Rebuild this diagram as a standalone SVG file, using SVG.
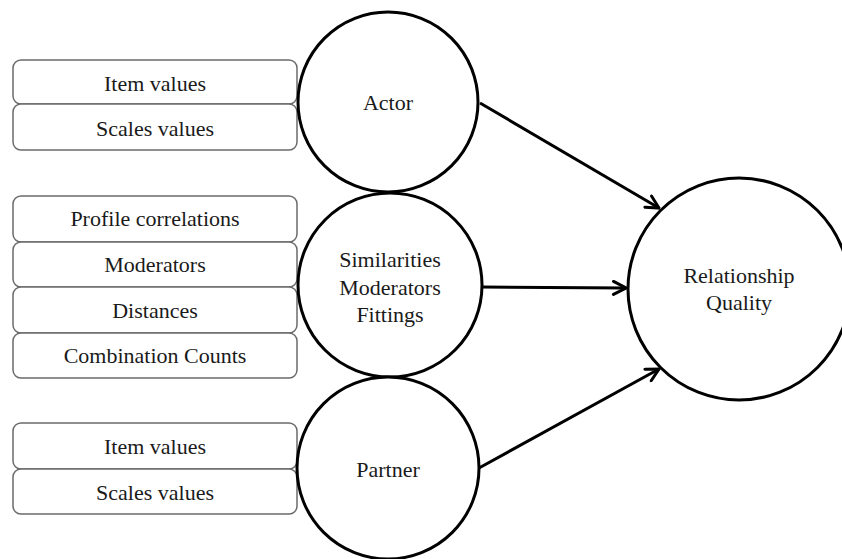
<svg xmlns="http://www.w3.org/2000/svg" width="842" height="559" viewBox="0 0 842 559">
  <style>
    .box { fill: #ffffff; stroke: #6b6b6b; stroke-width: 1.5; }
    .node { fill: #ffffff; stroke: #000000; stroke-width: 3; }
    .label { font-family: "Liberation Serif", "Times New Roman", serif; font-size: 22px; fill: #1a1a1a; text-anchor: middle; }
    .edge { fill: none; stroke: #000000; stroke-width: 3; }
  </style>
  <defs>
    <marker id="arrow" viewBox="0 0 16 16" refX="14.5" refY="8" markerWidth="16" markerHeight="16" markerUnits="userSpaceOnUse" orient="auto">
      <path d="M2,1.5 L14.5,8 L2,14.5" fill="none" stroke="#000000" stroke-width="3" stroke-linecap="round" stroke-linejoin="miter"/>
    </marker>
  </defs>
  <rect width="842" height="559" fill="#ffffff"/>

  <!-- Actor indicators -->
  <g id="actor-items">
    <rect class="box" x="13" y="60" width="284" height="44" rx="8"/>
    <text class="label" x="155" y="91">Item values</text>
  </g>
  <g id="actor-scales">
    <rect class="box" x="13" y="104" width="284" height="46" rx="8"/>
    <text class="label" x="155" y="136">Scales values</text>
  </g>

  <!-- Dyadic indicators -->
  <g id="profile-correlations">
    <rect class="box" x="13" y="196" width="284" height="46" rx="8"/>
    <text class="label" x="155" y="226">Profile correlations</text>
  </g>
  <g id="moderators">
    <rect class="box" x="13" y="242" width="284" height="45" rx="8"/>
    <text class="label" x="155" y="272">Moderators</text>
  </g>
  <g id="distances">
    <rect class="box" x="13" y="287" width="284" height="46" rx="8"/>
    <text class="label" x="155" y="318">Distances</text>
  </g>
  <g id="combination-counts">
    <rect class="box" x="13" y="333" width="284" height="45" rx="8"/>
    <text class="label" x="155" y="363">Combination Counts</text>
  </g>

  <!-- Partner indicators -->
  <g id="partner-items">
    <rect class="box" x="13" y="423" width="284" height="46" rx="8"/>
    <text class="label" x="155" y="454">Item values</text>
  </g>
  <g id="partner-scales">
    <rect class="box" x="13" y="469" width="284" height="45" rx="8"/>
    <text class="label" x="155" y="500">Scales values</text>
  </g>

  <!-- Latent constructs -->
  <g id="actor">
    <circle class="node" cx="388" cy="102" r="90"/>
    <text class="label" x="388" y="110">Actor</text>
  </g>
  <g id="similarities">
    <circle class="node" cx="390" cy="285" r="92"/>
    <text class="label" x="390" y="267">Similarities</text>
    <text class="label" x="390" y="295">Moderators</text>
    <text class="label" x="390" y="322">Fittings</text>
  </g>
  <g id="partner">
    <circle class="node" cx="388" cy="468" r="91"/>
    <text class="label" x="388" y="477">Partner</text>
  </g>
  <g id="relationship-quality">
    <circle class="node" cx="739" cy="289" r="111"/>
    <text class="label" x="739" y="283">Relationship</text>
    <text class="label" x="739" y="310">Quality</text>
  </g>

  <!-- Connectors -->
  <g id="connectors">
    <line class="edge" x1="480" y1="103" x2="659" y2="208" marker-end="url(#arrow)"/>
    <line class="edge" x1="482" y1="287" x2="626" y2="288" marker-end="url(#arrow)"/>
    <line class="edge" x1="479" y1="468" x2="659" y2="369" marker-end="url(#arrow)"/>
  </g>
</svg>
